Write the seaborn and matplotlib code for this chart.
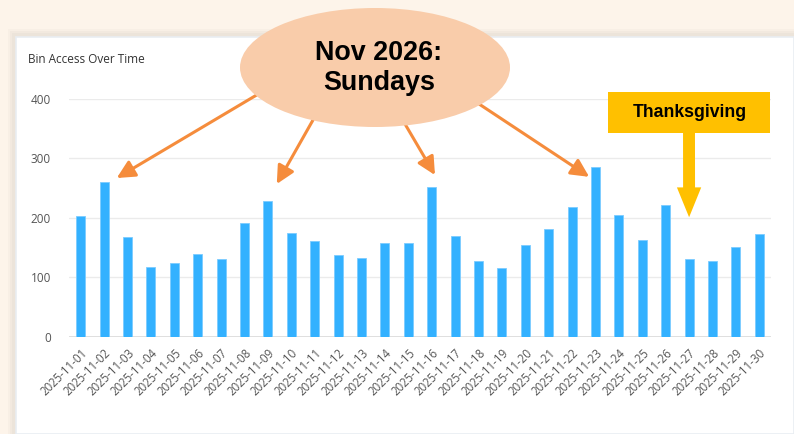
import pandas as pd
import seaborn as sns
import matplotlib.pyplot as plt
from matplotlib.patches import Ellipse, Rectangle

sns.set_theme(style="white")
plt.rcParams['font.family'] = ["Open Sans", "DejaVu Sans"]

# data
days = [f"2025-11-{d:02d}" for d in range(1, 31)]
access = [203, 260, 167, 118, 124, 139, 130, 191, 228, 175,
          161, 137, 133, 158, 158, 252, 169, 127, 115, 155,
          181, 218, 285, 204, 163, 221, 131, 127, 151, 172]
yticks = [0, 100, 200, 300, 400]

sunday_tips = [(1.54, 267), (8.38, 257), (15.14, 272), (21.73, 269)]
sunday_starts = [(260, 93), (313, 120), (405, 124), (470, 98)]  # figure px from top-left
thanks_tip = (26.0, 201)

W, H = 794, 434
df = pd.DataFrame({"day": days, "access": access})

fig = plt.figure(figsize=(W / 100, H / 100), dpi=100)
fig.patch.set_facecolor("#fdf4ea")


def fp(x, y):
    # figure pixel (top-left origin) -> figure fraction
    return x / W, 1 - y / H


# card with a soft shadow (a few layers to fake the blur)
for off, col in [(8, "#f8efe5"), (6, "#f2e9df"), (4, "#ece4da")]:
    fig.add_artist(Rectangle(fp(16 - off, 434), (W - 16 + off) / W,
                             (434 - 37 + off) / H, transform=fig.transFigure,
                             facecolor=col, edgecolor="none", zorder=-3))
fig.add_artist(Rectangle(fp(16, 434), (W - 16) / W, (434 - 37) / H,
                         transform=fig.transFigure, facecolor="white",
                         edgecolor="#e9edf2", lw=1.2, zorder=-2))

ax = fig.add_axes([69 / W, 1 - 336.7 / H, 702 / W, 237.7 / H])
ax.set_facecolor("none")
sns.barplot(data=df, x="day", y="access", color="#33b1ff", width=0.38,
            saturation=1, edgecolor="#7cccff", linewidth=0.6, ax=ax, zorder=3)

ax.set_xlim(-0.5, 29.5)
ax.set_ylim(0, 400)
ax.set_yticks(yticks)
ax.set_xlabel("")
ax.set_ylabel("")
for s in ax.spines.values():
    s.set_visible(False)
ax.grid(axis="y", color="#ebebeb", lw=1, zorder=0)
ax.axhline(0, color="#dcdcdc", lw=1.3, zorder=1)
ax.tick_params(axis="y", length=0, pad=13, labelsize=8.5, labelcolor="#555555")
ax.tick_params(axis="x", length=0, pad=7, labelsize=8.3, labelcolor="#555555")
plt.setp(ax.get_xticklabels(), rotation=45, ha="right", rotation_mode="anchor")

fig.text(*fp(28, 63), "Bin Access Over Time", fontsize=8.5, color="#333333",
         va="baseline")

# orange arrows to the Sundays
for tip, start in zip(sunday_tips, sunday_starts):
    ax.annotate("", xy=tip, xycoords="data", xytext=fp(*start),
                textcoords="figure fraction",
                arrowprops=dict(arrowstyle="-|>,head_length=0.9,head_width=0.45",
                                color="#f58c3c", lw=2.2, shrinkA=0, shrinkB=0),
                zorder=5, annotation_clip=False)

fig.add_artist(Ellipse(fp(375, 67.5), 270 / W, 119 / H, transform=fig.transFigure,
                       facecolor="#f9ccaa", edgecolor="none", zorder=6))
fig.text(*fp(379, 68), "Nov 2026:\nSundays", ha="center", va="center",
         fontsize=19.4, fontweight="bold", family=["Liberation Sans"],
         linespacing=1.22, color="black", zorder=7)

# Thanksgiving callout
ax.annotate("", xy=thanks_tip, xycoords="data", xytext=fp(689, 132),
            textcoords="figure fraction",
            arrowprops=dict(facecolor="#ffc000", edgecolor="none", width=8.6,
                            headwidth=17.5, headlength=21.5, shrink=0),
            zorder=5, annotation_clip=False)
fig.add_artist(Rectangle(fp(608, 133), 162 / W, 41 / H, transform=fig.transFigure,
                         facecolor="#ffc000", edgecolor="none", zorder=6))
fig.text(*fp(690, 113), "Thanksgiving", ha="center", va="center", fontsize=12.7,
         fontweight="bold", family=["Liberation Sans"], color="black", zorder=7)

fig.savefig("out.png", dpi=100)
